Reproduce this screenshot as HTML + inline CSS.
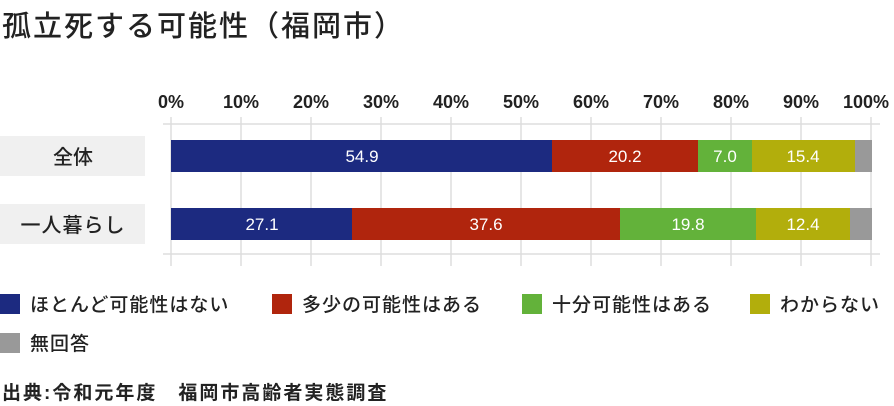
<!DOCTYPE html>
<html><head><meta charset="utf-8"><style>
body{margin:0;width:894px;height:406px;background:#fff;font-family:"Liberation Sans","Noto Sans CJK JP",sans-serif;overflow:hidden;position:relative}
.t{position:absolute;white-space:nowrap}
</style></head><body>
<div class="t" style="left:2px;top:3px;font-size:29px;color:#222;font-weight:500;letter-spacing:2px">孤立死する可能性（福岡市）</div>
<svg width="894" height="406" style="position:absolute;left:0;top:0" font-family="Liberation Sans, Noto Sans CJK JP, sans-serif">
<g font-size="18" font-weight="bold" fill="#222" text-anchor="middle">
<text x="171" y="108">0%</text><text x="241" y="108">10%</text><text x="311" y="108">20%</text><text x="381" y="108">30%</text><text x="451" y="108">40%</text><text x="521" y="108">50%</text><text x="591" y="108">60%</text><text x="661" y="108">70%</text><text x="731" y="108">80%</text><text x="801" y="108">90%</text><text x="866" y="108">100%</text>
</g>
<g stroke="#ddd" stroke-width="1.5">
<line x1="163" y1="124" x2="880" y2="124"/><line x1="163" y1="254" x2="880" y2="254"/>
<line x1="171" y1="117" x2="171" y2="266"/><line x1="241" y1="117" x2="241" y2="266"/><line x1="311" y1="117" x2="311" y2="266"/><line x1="381" y1="117" x2="381" y2="266"/><line x1="451" y1="117" x2="451" y2="266"/><line x1="521" y1="117" x2="521" y2="266"/><line x1="591" y1="117" x2="591" y2="266"/><line x1="661" y1="117" x2="661" y2="266"/><line x1="731" y1="117" x2="731" y2="266"/><line x1="801" y1="117" x2="801" y2="266"/><line x1="871" y1="117" x2="871" y2="266"/>
</g>
<rect x="0" y="136" width="145" height="40" fill="#f0f0f0"/>
<rect x="0" y="204" width="145" height="40" fill="#f0f0f0"/>
<g font-size="20" font-weight="500" fill="#222" text-anchor="middle"><text x="73" y="164">全体</text><text x="73" y="232" letter-spacing="1">一人暮らし</text></g>
<rect x="171" y="140" width="381" height="32" fill="#1c2a80"/>
<rect x="552" y="140" width="146" height="32" fill="#b0250d"/>
<rect x="698" y="140" width="54" height="32" fill="#63b23a"/>
<rect x="752" y="140" width="103" height="32" fill="#b2ae0c"/>
<rect x="855" y="140" width="17" height="32" fill="#999"/>
<rect x="171" y="208" width="181" height="32" fill="#1c2a80"/>
<rect x="352" y="208" width="268" height="32" fill="#b0250d"/>
<rect x="620" y="208" width="136" height="32" fill="#63b23a"/>
<rect x="756" y="208" width="94" height="32" fill="#b2ae0c"/>
<rect x="850" y="208" width="22" height="32" fill="#999"/>
<g font-size="17" fill="#fff" text-anchor="middle">
<text x="362" y="162">54.9</text><text x="625" y="162">20.2</text><text x="725" y="162">7.0</text><text x="803" y="162">15.4</text>
<text x="262" y="230">27.1</text><text x="486" y="230">37.6</text><text x="688" y="230">19.8</text><text x="803" y="230">12.4</text>
</g>
<g font-size="19" font-weight="500" fill="#222">
<rect x="0" y="294" width="20" height="20" fill="#1c2a80"/><text x="30" y="311" letter-spacing="1">ほとんど可能性はない</text>
<rect x="272" y="294" width="20" height="20" fill="#b0250d"/><text x="302" y="311" letter-spacing="1">多少の可能性はある</text>
<rect x="522" y="294" width="20" height="20" fill="#63b23a"/><text x="552" y="311" letter-spacing="1">十分可能性はある</text>
<rect x="750" y="294" width="20" height="20" fill="#b2ae0c"/><text x="780" y="311" letter-spacing="1">わからない</text>
<rect x="0" y="333" width="20" height="20" fill="#999"/><text x="30" y="350" letter-spacing="1">無回答</text>
<text x="2" y="399" font-weight="bold" font-size="19" letter-spacing="2">出典:令和元年度　福岡市高齢者実態調査</text>
</g>
</svg>
</body></html>
